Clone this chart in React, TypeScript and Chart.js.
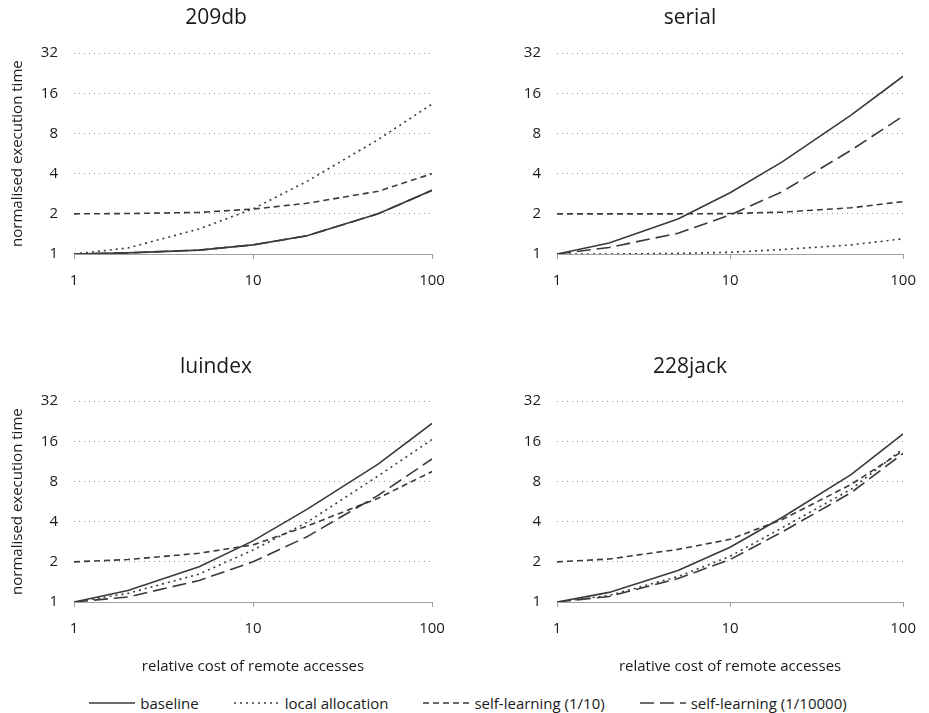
import React, { useEffect, useRef } from "react";
import { Chart, registerables } from "chart.js";

Chart.register(...registerables);

// ---------- data ----------
const costs = [1, 2, 5, 10, 20, 50, 100];
const xTickValues = [1, 10, 100];
const yTickValues = [1, 2, 4, 8, 16, 32];
const seriesNames = ["baseline", "local allocation", "self-learning (1/10)", "self-learning (1/10000)"];
const panelTitles = ["209db", "serial", "luindex", "228jack"];
const xAxisTitle = "relative cost of remote accesses";
const yAxisTitle = "normalised execution time";

const db209Baseline = [1, 1.02, 1.07, 1.17, 1.37, 2.0, 3.0];
const db209Local = [1, 1.11, 1.54, 2.18, 3.5, 7.2, 13.3];
const db209Self10 = [2, 2.01, 2.05, 2.17, 2.4, 2.95, 4.0];
const db209Self10000 = [1, 1.02, 1.07, 1.17, 1.37, 2.0, 3.0];

const serialBaseline = [1, 1.21, 1.83, 2.88, 4.9, 11.0, 21.5];
const serialLocal = [1, 1.0, 1.01, 1.03, 1.08, 1.17, 1.3];
const serialSelf10 = [2, 2, 2, 2.01, 2.06, 2.22, 2.47];
const serialSelf10000 = [1, 1.12, 1.43, 1.96, 2.93, 6.0, 10.8];

const luindexBaseline = [1, 1.22, 1.84, 2.87, 4.95, 10.8, 21.8];
const luindexLocal = [1, 1.16, 1.62, 2.45, 3.95, 8.8, 16.5];
const luindexSelf10 = [2, 2.08, 2.32, 2.68, 3.7, 6.0, 9.5];
const luindexSelf10000 = [1, 1.09, 1.45, 2.0, 3.08, 6.3, 11.8];

const jack228Baseline = [1, 1.18, 1.72, 2.57, 4.3, 9.0, 18.2];
const jack228Local = [1, 1.12, 1.55, 2.2, 3.6, 7.0, 14.1];
const jack228Self10 = [2, 2.1, 2.48, 2.95, 4.15, 7.6, 13.6];
const jack228Self10000 = [1, 1.1, 1.5, 2.08, 3.35, 6.6, 13.0];

const panelSeries = [
  [db209Baseline, db209Local, db209Self10, db209Self10000],
  [serialBaseline, serialLocal, serialSelf10, serialSelf10000],
  [luindexBaseline, luindexLocal, luindexSelf10, luindexSelf10000],
  [jack228Baseline, jack228Local, jack228Self10, jack228Self10000],
];

// ---------- styles ----------
const FONT = "'Open Sans', sans-serif";
const TEXT = "#1a1a1a";
const LINE = "#3a3a3a";
const AXIS = "#a0a0a0";
const GRID = "#9a9a9a";
const dashes: number[][] = [[], [2, 4], [6, 4], [14, 6]];
const widths = [1.6, 1.6, 1.6, 1.6];

type Layout = {
  left: number; top: number; width: number; height: number;
  titleTop: number; titleBottom: number;
  yWidth: number; xHeight: number; rightPad: number;
  showY: boolean; showX: boolean;
};

const layouts: Layout[] = [
  { left: 0, top: 0, width: 465, height: 300, titleTop: 5, titleBottom: 23, yWidth: 74, xHeight: 46, rightPad: 33, showY: true, showX: false },
  { left: 465, top: 0, width: 464, height: 300, titleTop: 5, titleBottom: 23, yWidth: 92, xHeight: 46, rightPad: 14, showY: false, showX: false },
  { left: 0, top: 340, width: 465, height: 340, titleTop: 14, titleBottom: 22, yWidth: 74, xHeight: 78, rightPad: 33, showY: true, showX: true },
  { left: 465, top: 340, width: 464, height: 340, titleTop: 14, titleBottom: 22, yWidth: 92, xHeight: 78, rightPad: 14, showY: false, showX: true },
];

function Panel({ index }: { index: number }) {
  const ref = useRef<HTMLCanvasElement | null>(null);
  const lay = layouts[index];
  useEffect(() => {
    if (!ref.current) return;
    const series = panelSeries[index];
    const chart = new Chart(ref.current, {
      type: "line",
      data: {
        datasets: series.map((vals, si) => ({
          label: seriesNames[si],
          data: costs.map((c, i) => ({ x: c, y: vals[i] })),
          borderColor: LINE,
          backgroundColor: LINE,
          borderWidth: widths[si],
          borderDash: dashes[si],
          pointRadius: 0,
          fill: false,
          tension: 0,
          order: 4 - si,
        })),
      },
      options: {
        responsive: false,
        animation: false,
        layout: { padding: { left: 0, right: lay.rightPad, top: 0, bottom: 0 } },
        plugins: {
          legend: { display: false },
          tooltip: { enabled: false },
          title: {
            display: true,
            text: panelTitles[index],
            color: TEXT,
            font: { family: FONT, size: 21, weight: "normal" },
            padding: { top: lay.titleTop, bottom: lay.titleBottom },
          },
        },
        scales: {
          x: {
            type: "logarithmic",
            min: 1,
            max: 100,
            afterBuildTicks: (scale: any) => {
              scale.ticks = xTickValues.map((v) => ({ value: v }));
            },
            afterFit: (scale: any) => {
              scale.height = lay.xHeight;
            },
            ticks: {
              color: TEXT,
              font: { family: FONT, size: 15 },
              padding: 13,
              maxRotation: 0,
              autoSkip: false,
              callback: (v: any) => String(v),
            },
            grid: { drawOnChartArea: false, drawTicks: true, tickLength: 5, color: AXIS },
            border: { display: true, color: AXIS, width: 1 },
            title: {
              display: lay.showX,
              text: xAxisTitle,
              color: TEXT,
              font: { family: FONT, size: 15 },
              padding: { top: 0, bottom: 4 },
            },
          },
          y: {
            type: "logarithmic",
            min: 1,
            max: 32,
            afterBuildTicks: (scale: any) => {
              scale.ticks = yTickValues.map((v) => ({ value: v }));
            },
            afterFit: (scale: any) => {
              scale.width = lay.yWidth;
            },
            ticks: {
              color: TEXT,
              font: { family: FONT, size: 15 },
              padding: 16,
              autoSkip: false,
              callback: (v: any) => String(v),
            },
            grid: { drawTicks: false, color: GRID, lineWidth: 1 },
            border: { display: false, dash: [1, 4] },
            title: {
              display: lay.showY,
              text: yAxisTitle,
              color: TEXT,
              font: { family: FONT, size: 15 },
              padding: { top: 9, bottom: 0 },
            },
          },
        },
      } as any,
    });
    return () => chart.destroy();
  }, [index]);
  return (
    <canvas
      ref={ref}
      width={lay.width}
      height={lay.height}
      style={{ position: "absolute", left: lay.left, top: lay.top, width: lay.width, height: lay.height }}
    />
  );
}

function LegendSample({ dash }: { dash: number[] }) {
  return (
    <svg width={46} height={4} style={{ display: "block" }}>
      <line x1={0} y1={2} x2={46} y2={2} stroke={LINE} strokeWidth={1.6} strokeDasharray={dash.length ? dash.join(" ") : undefined} />
    </svg>
  );
}

export default function App() {
  return (
    <div style={{ position: "absolute", left: 0, top: 0, width: 929, height: 713, background: "#fff", overflow: "hidden" }}>
      {layouts.map((_, i) => (
        <Panel key={i} index={i} />
      ))}
      <div
        style={{
          position: "absolute",
          left: 0,
          top: 692,
          width: 936,
          height: 22,
          display: "flex",
          justifyContent: "center",
          alignItems: "center",
          gap: 35,
          fontFamily: FONT,
          fontSize: 15,
          color: TEXT,
        }}
      >
        {seriesNames.map((name, i) => (
          <div key={name} style={{ display: "flex", alignItems: "center", gap: 5, whiteSpace: "nowrap" }}>
            <LegendSample dash={dashes[i]} />
            <span>{name}</span>
          </div>
        ))}
      </div>
    </div>
  );
}
